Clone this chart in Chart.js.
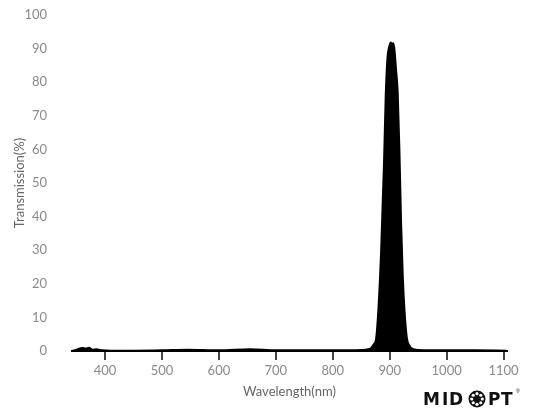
<!DOCTYPE html>
<html>
<head>
<meta charset="utf-8">
<script src="https://cdn.jsdelivr.net/npm/chart.js@4.4.1/dist/chart.umd.min.js"></script>
<style>
  html, body { margin: 0; padding: 0; background: #fff; }
  #wrap { position: relative; width: 539px; height: 420px; }
</style>
</head>
<body>
<div id="wrap"><canvas id="grafica" width="539" height="420"></canvas></div>
<script>
// longitud de onda (nm) y transmision (%)
var wavelengths = [342, 350, 360, 366, 372, 378, 385, 395, 410, 450, 500, 545, 600, 655, 700, 760, 800, 850, 862, 868, 872, 876, 880, 885, 890, 893, 896, 899, 902, 904, 906, 908, 911, 914, 917, 920, 923, 926, 930, 935, 940, 950, 1000, 1050, 1105];
var transmission = [0, 0.4, 0.9, 0.7, 1.0, 0.4, 0.5, 0.2, 0.1, 0.1, 0.2, 0.4, 0.2, 0.5, 0.2, 0.2, 0.2, 0.3, 0.5, 1.0, 2.0, 3.5, 12, 30, 56, 76, 87, 90.5, 91.8, 91.2, 91.6, 90.2, 84, 77, 60, 38, 22, 12, 4, 1.5, 0.6, 0.3, 0.2, 0.2, 0.1];
var xTicks = [400, 500, 600, 700, 800, 900, 1000, 1100];
var yTicks = [0, 10, 20, 30, 40, 50, 60, 70, 80, 90, 100];

var puntos = wavelengths.map(function(w, i){ return {x: w, y: transmission[i]}; });

// logo MIDOPT abajo a la derecha
var logoPlugin = {
  id: 'logo',
  afterDraw: function(chart){
    var ctx = chart.ctx;
    ctx.save();
    ctx.fillStyle = '#111';
    ctx.font = 'bold 17px "DejaVu Sans", sans-serif';
    ctx.textBaseline = 'alphabetic';
    var base = 405;
    ctx.fillText('M', 423, base);
    ctx.fillText('I', 442, base);
    ctx.fillText('D', 449, base);
    ctx.fillText('P', 488, base);
    ctx.fillText('T', 501, base);
    // la "O" con puntos
    var cx = 477, cy = 399, r = 8.5;
    ctx.beginPath(); ctx.arc(cx, cy, r, 0, Math.PI * 2); ctx.fill();
    ctx.fillStyle = '#fff';
    for (var k = 0; k < 8; k++) {
      var a = k * Math.PI / 4;
      ctx.beginPath(); ctx.arc(cx + Math.cos(a) * 5.3, cy + Math.sin(a) * 5.3, 1.6, 0, Math.PI * 2); ctx.fill();
    }
    ctx.fillStyle = '#111';
    ctx.beginPath(); ctx.arc(cx, cy, 2.2, 0, Math.PI * 2); ctx.fill();
    ctx.font = '5px sans-serif';
    ctx.fillText('\u00ae', 516, 393);
    ctx.restore();
  }
};

var contenedor = document.getElementById('grafica').getContext('2d');
var grafica = new Chart(contenedor, {
  type: 'line',
  data: {
    datasets: [{
      data: puntos,
      borderColor: '#000',
      backgroundColor: '#000',
      borderWidth: 2,
      fill: 'origin',
      pointRadius: 0,
      cubicInterpolationMode: 'monotone'
    }]
  },
  options: {
    responsive: false,
    animation: false,
    layout: { autoPadding: false, padding: { top: 15, right: 32, left: 0, bottom: 20 } },
    plugins: { legend: { display: false }, tooltip: { enabled: false } },
    scales: {
      x: {
        type: 'linear',
        min: 342,
        max: 1106,
        afterBuildTicks: function(scale){
          scale.ticks = xTicks.map(function(v){ return {value: v}; });
        },
        afterFit: function(scale){ scale.height = 49; scale.paddingLeft = 0; scale.paddingRight = 0; },
        border: { display: true, color: '#000', width: 2 },
        grid: { drawOnChartArea: false, drawTicks: true, tickLength: 9, color: '#444', lineWidth: 2 },
        ticks: { color: '#8a8a8a', font: { family: 'Lato', size: 13 }, padding: 3, maxRotation: 0,
                 callback: function(v){ return String(v); } },
        title: { display: true, text: 'Wavelength(nm)', color: '#666', font: { family: 'Lato', size: 13 }, padding: 0 }
      },
      y: {
        min: 0,
        max: 100,
        afterBuildTicks: function(scale){
          scale.ticks = yTicks.map(function(v){ return {value: v}; });
        },
        afterFit: function(scale){ scale.width = 72; scale.paddingTop = 0; scale.paddingBottom = 0; },
        border: { display: false },
        grid: { display: false },
        ticks: { color: '#8a8a8a', font: { family: 'Lato', size: 13 }, padding: 17 },
        title: { display: true, text: 'Transmission(%)', color: '#666', font: { family: 'Lato', size: 13 }, padding: { top: 12, bottom: 0 } }
      }
    }
  },
  plugins: [logoPlugin]
});
</script>
</body>
</html>
